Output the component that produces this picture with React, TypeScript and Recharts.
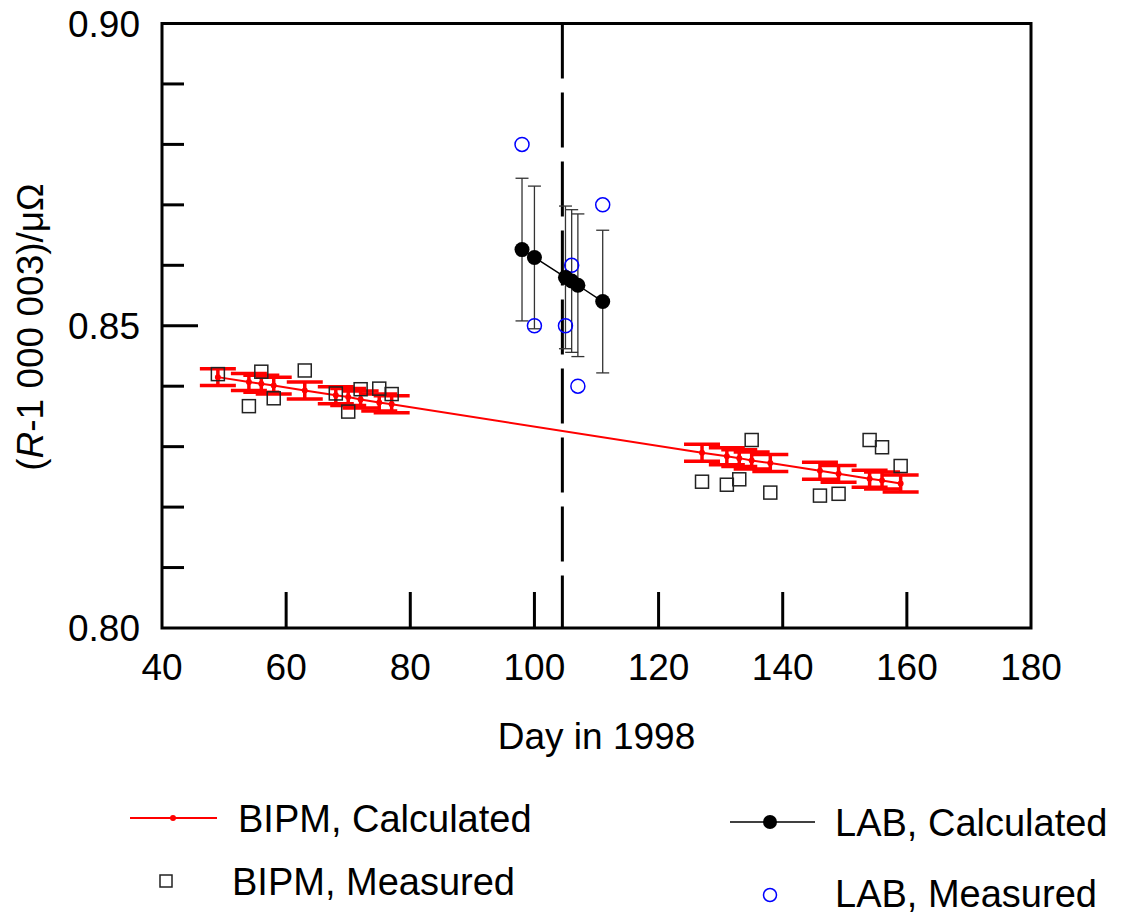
import React from 'react';
import {
  ComposedChart,
  Line,
  Scatter,
  XAxis,
  YAxis,
  ErrorBar,
  ReferenceLine,
  ReferenceArea,
} from 'recharts';

// BIPM measurement days and values
const bipmDays = [49, 54, 56, 58, 63, 68, 70, 72, 75, 77, 127, 131, 133, 135, 138, 146, 149, 154, 156, 159];
const bipmMeasured = [
  0.8420, 0.8367, 0.8424, 0.8380, 0.8426, 0.8388, 0.8358, 0.8395, 0.8396, 0.8387,
  0.8242, 0.8237, 0.8246, 0.8311, 0.8224, 0.8219, 0.8222, 0.8311, 0.8299, 0.8268,
];
const bipmCalculated = [
  0.8415, 0.8407, 0.8404, 0.8401, 0.8393, 0.8385, 0.8382, 0.8378, 0.8373, 0.8370,
  0.8290, 0.8284, 0.8281, 0.8277, 0.8273, 0.8260, 0.8255, 0.8247, 0.8244, 0.8239,
];
const bipmCalcErr = [
  0.0014, 0.0014, 0.0014, 0.0014, 0.0014, 0.0014, 0.0014, 0.0014, 0.0014, 0.0014,
  0.0014, 0.0014, 0.0014, 0.0014, 0.0014, 0.0014, 0.0014, 0.0014, 0.0014, 0.0014,
];

// LAB measurement days and values
const labDays = [98, 100, 105, 106, 107, 111];
const labMeasured = [0.880, 0.850, 0.850, 0.860, 0.840, 0.870];
const labCalculated = [0.8626, 0.8613, 0.8580, 0.8574, 0.8567, 0.8540];
const labCalcErr = [0.0118, 0.0118, 0.0118, 0.0118, 0.0118, 0.0118];

const splitDay = 104.5;

const xTicks = [40, 60, 80, 100, 120, 140, 160, 180];
const xInnerTicks = [60, 80, 100, 120, 140, 160];
const yTicks = [0.8, 0.81, 0.82, 0.83, 0.84, 0.85, 0.86, 0.87, 0.88, 0.89, 0.9];
const yLabels = ['0.80', '0.85', '0.90'];

const bipmCalcData = bipmDays.map((x, i) => ({ x, y: bipmCalculated[i], err: bipmCalcErr[i] }));
const bipmMeasData = bipmDays.map((x, i) => ({ x, y: bipmMeasured[i] }));
const labCalcData = labDays.map((x, i) => ({ x, y: labCalculated[i], err: labCalcErr[i] }));
const labMeasData = labDays.map((x, i) => ({ x, y: labMeasured[i] }));

const FONT = '"Liberation Sans", Arial, sans-serif';

const isInner = (v: number) => v > 0.8005 && v < 0.8995;
const isMajor = (v: number) => Math.abs(v - 0.85) < 1e-6;

const LeftTick = ({ x, y, payload }: any) => {
  const v = payload.value;
  const label = v.toFixed(2);
  return (
    <g>
      {isInner(v) && (
        <line x1={x} x2={x + (isMajor(v) ? 36 : 22)} y1={y} y2={y} stroke="#000" strokeWidth={3} />
      )}
      {yLabels.includes(label) && (
        <text x={x - 22} y={y} dy="0.36em" textAnchor="end" fontSize={37} fontFamily={FONT} fill="#000">
          {label}
        </text>
      )}
    </g>
  );
};

const RightTick = ({ x, y, payload }: any) => {
  const v = payload.value;
  if (!isInner(v)) return <g />;
  return <line x1={x} x2={x - (isMajor(v) ? 36 : 22)} y1={y} y2={y} stroke="#000" strokeWidth={3} />;
};

const BottomTick = ({ x, y, payload }: any) => {
  const v = payload.value;
  return (
    <g>
      {v > 40 && v < 180 && <line x1={x} x2={x} y1={y} y2={y - 36} stroke="#000" strokeWidth={3} />}
      <text x={x} y={y + 52} textAnchor="middle" fontSize={37} fontFamily={FONT} fill="#000">
        {v}
      </text>
    </g>
  );
};

const TopTick = ({ x, y }: any) => (
  <line x1={x} x2={x} y1={y} y2={y + 36} stroke="#000" strokeWidth={3} />
);

const SquareShape = ({ cx, cy }: any) => (
  <rect x={cx - 6.5} y={cy - 6.5} width={13} height={13} fill="none" stroke="#222" strokeWidth={1.5} />
);

const OpenCircle = ({ cx, cy }: any) => (
  <circle cx={cx} cy={cy} r={7} fill="none" stroke="#0000ff" strokeWidth={1.5} />
);

const App: React.FC = () => {
  return (
    <div style={{ position: 'absolute', left: 0, top: 0, width: 1121, height: 917, background: '#fff', fontFamily: FONT }}>
      <ComposedChart
        width={1121}
        height={917}
        margin={{ top: 22.5, right: 89, bottom: 0, left: 0 }}
      >
        <XAxis
          dataKey="x"
          type="number"
          domain={[40, 180]}
          ticks={xTicks}
          interval={0}
          height={289}
          tickSize={0}
          tickMargin={0}
          tickLine={false}
          axisLine={false}
          tick={<BottomTick />}
          label={{ value: 'Day in 1998', position: 'insideTop', offset: 95, fontSize: 37, fill: '#000', fontFamily: FONT }}
        />
        <XAxis
          xAxisId="top"
          orientation="top"
          type="number"
          domain={[40, 180]}
          ticks={xInnerTicks}
          interval={0}
          height={1}
          tickSize={0}
          tickMargin={0}
          tickLine={false}
          axisLine={false}
          tick={<TopTick />}
        />
        <YAxis
          dataKey="y"
          type="number"
          domain={[0.8, 0.9]}
          ticks={yTicks}
          interval={0}
          width={162}
          tickSize={0}
          tickMargin={0}
          tickLine={false}
          axisLine={false}
          tick={<LeftTick />}
        />
        <YAxis
          yAxisId="right"
          orientation="right"
          type="number"
          domain={[0.8, 0.9]}
          ticks={yTicks}
          interval={0}
          width={1}
          tickSize={0}
          tickMargin={0}
          tickLine={false}
          axisLine={false}
          tick={<RightTick />}
        />

        <ReferenceLine
          segment={[{ x: splitDay, y: 0.9 }, { x: splitDay, y: 0.8 }]}
          stroke="#000"
          strokeWidth={3}
          strokeDasharray="55 14"
        />

        <Line
          data={bipmCalcData}
          dataKey="y"
          stroke="#ff0000"
          strokeWidth={2}
          dot={{ r: 2, fill: '#ff0000', stroke: '#ff0000' }}
          isAnimationActive={false}
        >
          <ErrorBar dataKey="err" direction="y" width={18} stroke="#ff0000" strokeWidth={3.5} isAnimationActive={false} />
        </Line>

        <Scatter data={bipmMeasData} shape={<SquareShape />} isAnimationActive={false} />

        <Line
          data={labCalcData}
          dataKey="y"
          stroke="#000"
          strokeWidth={1.5}
          dot={{ r: 7.5, fill: '#000', stroke: '#000', strokeWidth: 0 }}
          isAnimationActive={false}
        >
          <ErrorBar dataKey="err" direction="y" width={6.5} stroke="#333" strokeWidth={1.3} isAnimationActive={false} />
        </Line>

        <Scatter data={labMeasData} shape={<OpenCircle />} isAnimationActive={false} />

        <ReferenceArea x1={40} x2={180} y1={0.8} y2={0.9} fill="none" fillOpacity={0} stroke="#000" strokeWidth={3} />
      </ComposedChart>

      <svg
        width={1121}
        height={917}
        style={{ position: 'absolute', left: 0, top: 0, pointerEvents: 'none' }}
        fontFamily={FONT}
      >
        <text transform="translate(30,327) rotate(-90)" textAnchor="middle" dy="0.36em" fontSize={37} fill="#000">
          (<tspan fontStyle="italic">R</tspan>-1 000 003)/μΩ
        </text>

        {/* legend */}
        <line x1={130} x2={217} y1={818} y2={818} stroke="#ff0000" strokeWidth={2} />
        <circle cx={173} cy={818} r={3} fill="#ff0000" />
        <text x={238} y={832} fontSize={38} fill="#000">BIPM, Calculated</text>

        <rect x={160} y={875} width={12} height={12} fill="none" stroke="#222" strokeWidth={1.5} />
        <text x={232} y={895} fontSize={38} fill="#000">BIPM, Measured</text>

        <line x1={730} x2={815} y1={822} y2={822} stroke="#000" strokeWidth={1.5} />
        <circle cx={770} cy={822} r={7} fill="#000" />
        <text x={835} y={836} fontSize={38} fill="#000">LAB, Calculated</text>

        <circle cx={770} cy={895} r={6.5} fill="none" stroke="#0000ff" strokeWidth={1.5} />
        <text x={835} y={907} fontSize={38} fill="#000">LAB, Measured</text>
      </svg>
    </div>
  );
};

export default App;
